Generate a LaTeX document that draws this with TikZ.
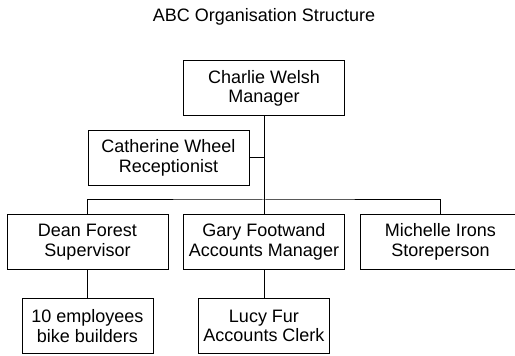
\documentclass[tikz,border=0pt]{standalone}
\usepackage{fontspec}
\setmainfont{Liberation Sans}
\usetikzlibrary{positioning}

\tikzset{
  staff/.style={draw, line width=1pt, inner sep=0pt, align=center,
    minimum width=161pt, minimum height=55pt},
  crew/.style={staff, minimum width=131pt},
}

\begin{document}
\begin{tikzpicture}[x=1pt, y=1pt, line width=1pt,
    font=\fontsize{18}{19.5}\selectfont]
    \useasboundingbox (0,0) rectangle (515,356);
    %
    \node [staff] (charlie) at (264,267.5) {Charlie Welsh\\Manager};
    \node [above of=charlie, node distance=71.5pt] (title) {ABC Organisation Structure};
    \node [staff, below of=charlie, node distance=69.5pt, xshift=-95.5pt] (catherine) {Catherine Wheel\\Receptionist};
    \node [staff, below of=charlie, node distance=153.5pt] (gary) {Gary Footwand\\Accounts Manager};
    \node [staff, left of=gary, node distance=176.5pt] (dean) {Dean Forest\\Supervisor};
    \node [staff, right of=gary, node distance=176.5pt] (michelle) {Michelle Irons\\Storeperson};
    \node [crew, below of=dean, node distance=84pt] (builders) {10 employees\\bike builders};
    \node [crew, below of=gary, node distance=84pt] (lucy) {Lucy Fur\\Accounts Clerk};
    \coordinate [above of=gary, node distance=42pt] (bus);
    %
    \draw (charlie.south) -- (gary.north);
    \draw (catherine.east) -- (catherine.east -| charlie.south);
    \draw (dean.north) |- (bus) -| (michelle.north);
    \draw (dean.south) -- (builders.north);
    \draw (gary.south) -- (lucy.north);
\end{tikzpicture}
\end{document}
